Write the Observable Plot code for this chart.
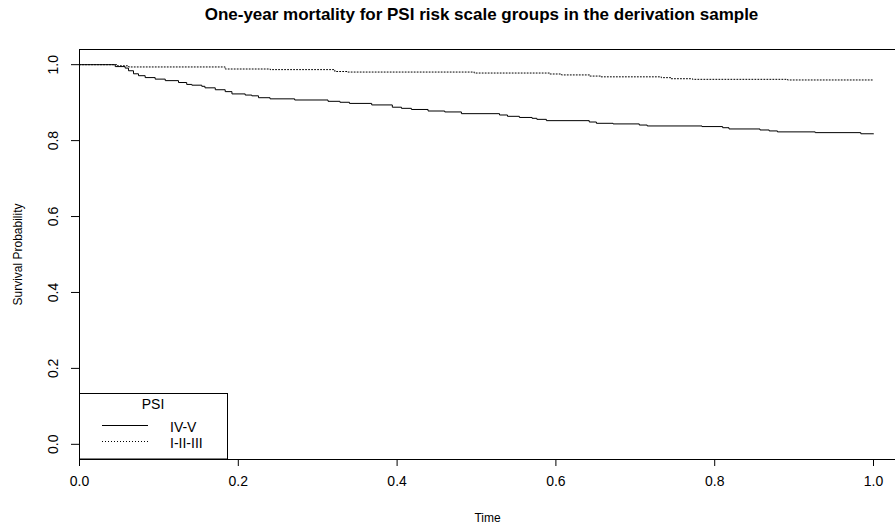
<!DOCTYPE html>
<html><head><meta charset="utf-8">
<script src="https://cdn.jsdelivr.net/npm/d3@7"></script>
<script src="https://cdn.jsdelivr.net/npm/@observablehq/plot@0.6"></script>
<style>
body{margin:0;background:#fff;}
#wrap{position:relative;width:895px;height:532px;font-family:"Liberation Sans",Arial,Helvetica,sans-serif;}
#legend{position:absolute;left:0;top:0;pointer-events:none;}
</style>
</head><body><div id="wrap"></div>
<script>
const chartTitle = "One-year mortality for PSI risk scale groups in the derivation sample";
const xLabel = "Time";
const yLabel = "Survival Probability";
const legendTitle = "PSI";
const groupNames = ["IV-V", "I-II-III"];

// Group IV-V (solid)
const timeIVV = [0, 0.045, 0.0575, 0.0617, 0.068, 0.0743, 0.0827, 0.0953, 0.108, 0.1247, 0.135, 0.1415, 0.154, 0.158, 0.171, 0.1835, 0.192, 0.2087, 0.217, 0.2254, 0.240, 0.271, 0.313, 0.328, 0.340, 0.368, 0.394, 0.4055, 0.418, 0.439, 0.460, 0.481, 0.529, 0.539, 0.554, 0.570, 0.576, 0.588, 0.642, 0.651, 0.672, 0.705, 0.715, 0.784, 0.810, 0.818, 0.857, 0.8686, 0.879, 0.9266, 0.984, 1.0];
const survIVV = [1.0, 0.995, 0.991, 0.984, 0.976, 0.971, 0.966, 0.962, 0.958, 0.953, 0.948, 0.946, 0.943, 0.939, 0.934, 0.929, 0.923, 0.920, 0.918, 0.913, 0.910, 0.907, 0.9035, 0.901, 0.898, 0.894, 0.888, 0.885, 0.882, 0.878, 0.8755, 0.871, 0.8675, 0.864, 0.861, 0.8587, 0.856, 0.8526, 0.849, 0.8456, 0.844, 0.841, 0.8386, 0.837, 0.834, 0.8307, 0.828, 0.8255, 0.823, 0.821, 0.818, 0.818];

// Group I-II-III (dotted)
const timeI_III = [0, 0.048, 0.062, 0.1835, 0.240, 0.3216, 0.338, 0.497, 0.592, 0.607, 0.642, 0.657, 0.7326, 0.745, 0.772, 0.8917, 1.0];
const survI_III = [1.0, 0.997, 0.994, 0.9886, 0.987, 0.982, 0.9806, 0.978, 0.9755, 0.973, 0.970, 0.968, 0.9658, 0.963, 0.9614, 0.9597, 0.9597];

const xTicks = [0, 0.2, 0.4, 0.6, 0.8, 1.0];
const yTicks = [0, 0.2, 0.4, 0.6, 0.8, 1.0];
const xDomain = [0, 1.0277];
const yDomain = [-0.04, 1.04];

const rows = [];
timeIVV.forEach((t, i) => rows.push({group: groupNames[0], time: t, surv: survIVV[i]}));
timeI_III.forEach((t, i) => rows.push({group: groupNames[1], time: t, surv: survI_III[i]}));

const font = '"Liberation Sans", Arial, Helvetica, sans-serif';
const W = 895, H = 532;
const chart = Plot.plot({
  width: W, height: H,
  marginLeft: 79, marginRight: 0, marginTop: 49, marginBottom: 73,
  style: {fontFamily: font, fontSize: "14px", color: "#000", background: "#fff"},
  x: {domain: xDomain, axis: null},
  y: {domain: yDomain, axis: null},
  marks: [
    Plot.ruleY([yDomain[1]], {stroke: "#000", strokeWidth: 1}),
    Plot.ruleY([yDomain[0]], {stroke: "#000", strokeWidth: 1}),
    Plot.ruleX([xDomain[0]], {stroke: "#000", strokeWidth: 1}),
    Plot.axisX({ticks: xTicks, tickSize: 7, tickPadding: 10, tickFormat: d => d.toFixed(1), fontSize: 14, label: null, anchor: "bottom"}),
    Plot.axisY({ticks: yTicks, tickSize: 8, tickFormat: () => "", label: null, anchor: "left"}),
    Plot.text(yTicks, {y: d => d, frameAnchor: "left", textAnchor: "middle", lineAnchor: "middle", dx: -26, rotate: -90, text: d => d.toFixed(1), fontSize: 14}),
    Plot.line(rows.filter(d => d.group === groupNames[0]), {x: "time", y: "surv", curve: "step-after", stroke: "#000", strokeWidth: 1}),
    Plot.line(rows.filter(d => d.group === groupNames[1]), {x: "time", y: "surv", curve: "step-after", stroke: "#000", strokeWidth: 1, strokeDasharray: "1,2"}),
    Plot.text([chartTitle], {frameAnchor: "top", lineAnchor: "middle", dy: -35, dx: -6, fontWeight: "bold", fontSize: 17}),
    Plot.text([xLabel], {frameAnchor: "bottom", lineAnchor: "middle", dy: 59, dx: 0, fontSize: 12}),
    Plot.text([yLabel], {frameAnchor: "left", textAnchor: "middle", lineAnchor: "middle", dx: -61, rotate: -90, fontSize: 12})
  ]
});
const wrap = document.getElementById("wrap");
wrap.appendChild(chart);

// Legend overlay
const lg = d3.select(wrap).append("svg").attr("id", "legend").attr("width", W).attr("height", H)
  .style("font-family", font).style("font-size", "14px");
lg.append("rect").attr("x", 79.5).attr("y", 393.5).attr("width", 148).attr("height", 65.5)
  .attr("fill", "#fff").attr("stroke", "#000");
lg.append("text").attr("x", 153).attr("y", 405).attr("text-anchor", "middle").attr("dominant-baseline", "middle").text(legendTitle);
const styles = [null, "1,2"];
groupNames.forEach((g, i) => {
  const y = [425.5, 441.5][i];
  lg.append("line").attr("x1", 102).attr("x2", 148).attr("y1", y).attr("y2", y)
    .attr("stroke", "#000").attr("stroke-dasharray", styles[i]);
  lg.append("text").attr("x", 170).attr("y", [428, 444][i]).attr("dominant-baseline", "middle").text(g);
});
</script>
</body></html>
